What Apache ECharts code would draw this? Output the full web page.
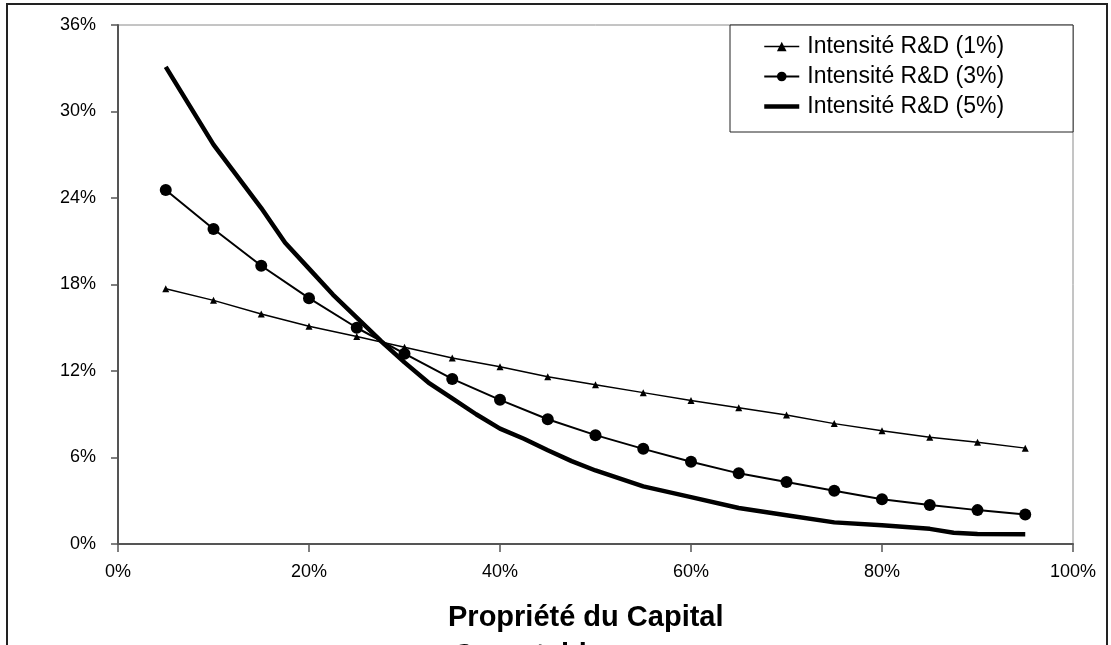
<!DOCTYPE html>
<html>
<head>
<meta charset="utf-8">
<script src="https://cdn.jsdelivr.net/npm/echarts@6/dist/echarts.min.js"></script>
<style>
  html, body { margin: 0; padding: 0; background: #fff; }
  #main { width: 1111px; height: 645px; }
</style>
</head>
<body>
<div id="main"></div>
<script>
// capital share (x axis, %)
let xShare = [5, 10, 15, 20, 25, 30, 35, 40, 45, 50, 55, 60, 65, 70, 75, 80, 85, 90, 95];
// R&D intensity 1%
let rd1 = [17.7, 16.9, 15.95, 15.1, 14.4, 13.65, 12.9, 12.3, 11.6, 11.05, 10.5, 9.95, 9.45, 8.95, 8.35, 7.85, 7.4, 7.05, 6.65];
// R&D intensity 3%
let rd3 = [24.55, 21.85, 19.3, 17.05, 15.0, 13.2, 11.45, 10.0, 8.65, 7.55, 6.6, 5.7, 4.9, 4.3, 3.7, 3.1, 2.7, 2.35, 2.05];
// R&D intensity 5% (finer steps)
let xShare5 = [5, 10, 15, 17.5, 20, 22.5, 25, 27.5, 30, 32.5, 35, 37.5, 40, 42.5, 45, 47.5, 50, 55, 60, 65, 70, 75, 80, 85, 87.5, 90, 95];
let rd5 = [33.1, 27.7, 23.3, 20.9, 19.1, 17.3, 15.7, 14.1, 12.6, 11.2, 10.1, 9.0, 8.0, 7.3, 6.5, 5.75, 5.1, 4.0, 3.25, 2.5, 2.0, 1.5, 1.3, 1.05, 0.78, 0.7, 0.68];

let seriesNames = ['Intensité R&D (1%)', 'Intensité R&D (3%)', 'Intensité R&D (5%)'];
let yTicks = { min: 0, max: 36, step: 6 };
let xTicks = { min: 0, max: 100, step: 20 };

function pairs(xs, ys) {
  return xs.map(function (x, i) { return [x, ys[i]]; });
}

let font = 'Liberation Sans, Arial, sans-serif';
let chart = echarts.init(document.getElementById('main'));

let option = {
  animation: false,
  backgroundColor: '#fff',
  title: [
    {
      text: 'Propriété du Capital',
      left: 443,
      top: 598,
      textStyle: { fontFamily: font, fontSize: 29, fontWeight: 'bold', color: '#000' }
    },
    {
      text: 'Comptable',
      left: 448,
      top: 636,
      textStyle: { fontFamily: font, fontSize: 29, fontWeight: 'bold', color: '#000' }
    }
  ],
  graphic: [
    {
      type: 'rect',
      shape: { x: 7, y: 4, width: 1100, height: 700 },
      style: { fill: 'none', stroke: '#222', lineWidth: 2 },
      silent: true
    }
  ],
  grid: {
    left: 118,
    right: 38,
    top: 25,
    bottom: 101,
    show: true,
    borderColor: '#8a8a8a',
    borderWidth: 1
  },
  legend: {
    orient: 'vertical',
    left: 730,
    top: 25,
    padding: [10, 69, 14, 32],
    itemGap: 7,
    itemWidth: 35,
    itemHeight: 12,
    borderColor: '#222',
    borderWidth: 1,
    backgroundColor: '#fff',
    textStyle: { fontFamily: font, fontSize: 23, color: '#000', padding: [0, 0, 0, 3] },
    data: [
      { name: seriesNames[0], lineStyle: { width: 1.5 } },
      { name: seriesNames[1], lineStyle: { width: 2 } },
      { name: seriesNames[2], lineStyle: { width: 4.5 }, itemStyle: { opacity: 0 } }
    ]
  },
  xAxis: {
    type: 'value',
    min: xTicks.min,
    max: xTicks.max,
    interval: xTicks.step,
    axisLine: { show: true, lineStyle: { color: '#555', width: 2 } },
    axisTick: { show: true, inside: false, length: 8, lineStyle: { color: '#555', width: 1.5 } },
    axisLabel: { margin: 19, fontFamily: font, fontSize: 18, color: '#000', formatter: '{value}%' },
    splitLine: { show: false }
  },
  yAxis: {
    type: 'value',
    min: yTicks.min,
    max: yTicks.max,
    interval: yTicks.step,
    axisLine: { show: true, lineStyle: { color: '#555', width: 2 } },
    axisTick: { show: true, inside: false, length: 7, lineStyle: { color: '#555', width: 1.5 } },
    axisLabel: { margin: 22, fontFamily: font, fontSize: 18, color: '#000', formatter: '{value}%' },
    splitLine: { show: false }
  },
  series: [
    {
      name: seriesNames[0],
      type: 'line',
      data: pairs(xShare, rd1),
      symbol: 'triangle',
      symbolSize: 7,
      lineStyle: { color: '#000', width: 1.5 },
      itemStyle: { color: '#000' }
    },
    {
      name: seriesNames[1],
      type: 'line',
      data: pairs(xShare, rd3),
      symbol: 'circle',
      symbolSize: 12,
      lineStyle: { color: '#000', width: 2 },
      itemStyle: { color: '#000' }
    },
    {
      name: seriesNames[2],
      type: 'line',
      data: pairs(xShare5, rd5),
      symbol: 'none',
      lineStyle: { color: '#000', width: 4.5 },
      itemStyle: { color: '#000' }
    }
  ]
};

chart.setOption(option);
</script>
</body>
</html>
